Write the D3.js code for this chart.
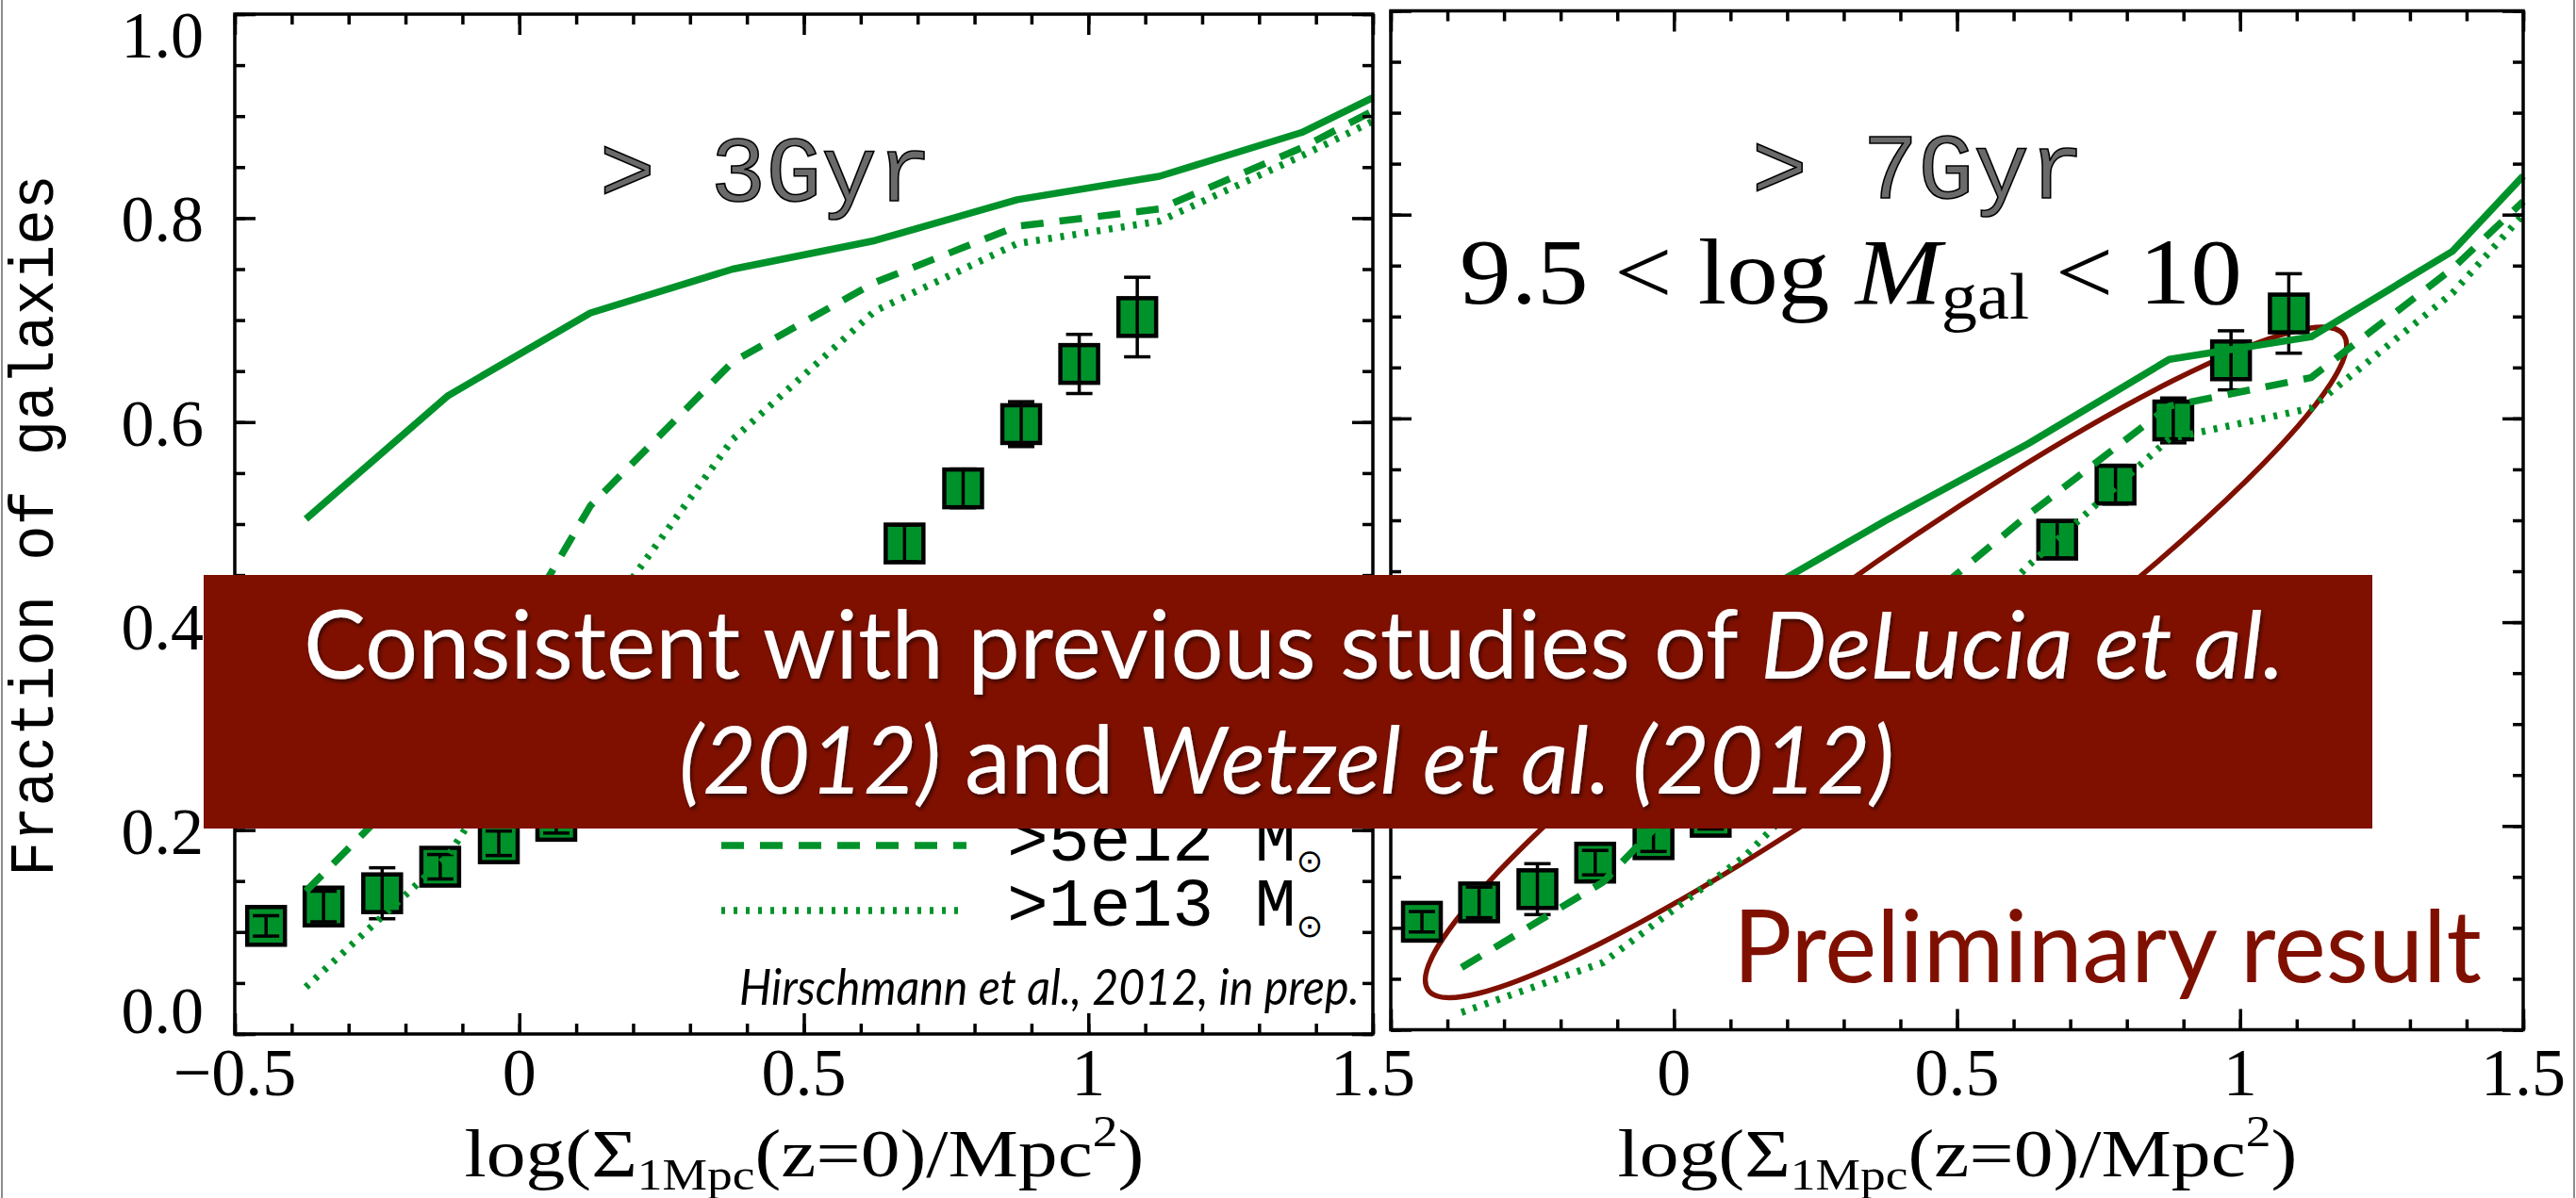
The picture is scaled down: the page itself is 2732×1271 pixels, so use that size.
<!DOCTYPE html>
<html>
<head>
<meta charset="utf-8">
<script src="https://cdn.jsdelivr.net/npm/d3@7"></script>
<style>
  html, body { margin: 0; padding: 0; background: #fff; }
  svg { display: block; }
</style>
</head>
<body>
<div id="chart"></div>
<script>
// observed fractions, same points in both panels
const obsX = [-0.445, -0.344, -0.241, -0.139, -0.036, 0.065, 0.677, 0.780, 0.882, 0.984, 1.086];
const obsY = [0.106, 0.125, 0.138, 0.164, 0.187, 0.209, 0.481, 0.535, 0.598, 0.657, 0.703];
const obsErr = [0.010, 0.015, 0.025, 0.012, 0.012, 0.012, 0.018, 0.019, 0.022, 0.029, 0.039];

// model curves (x grid shared by every curve)
const modelX = [-0.375, -0.125, 0.125, 0.375, 0.625, 0.875, 1.125, 1.375, 1.5];
const gyr3Solid = [0.505, 0.626, 0.707, 0.750, 0.778, 0.818, 0.841, 0.884, 0.918];
const gyr3Dashed = [0.140, 0.280, 0.518, 0.659, 0.737, 0.792, 0.809, 0.869, 0.905];
const gyr3Dotted = [0.046, 0.175, 0.390, 0.583, 0.709, 0.775, 0.797, 0.861, 0.895];
const gyr7Solid = [0.280, 0.350, 0.420, 0.500, 0.575, 0.658, 0.680, 0.764, 0.838];
const gyr7Dashed = [0.061, 0.145, 0.290, 0.390, 0.505, 0.612, 0.640, 0.747, 0.813];
const gyr7Dotted = [0.017, 0.066, 0.170, 0.310, 0.455, 0.580, 0.610, 0.723, 0.800];

// axes
const xTicks = [-0.5, 0, 0.5, 1, 1.5];
const yTicks = [0, 0.2, 0.4, 0.6, 0.8, 1.0];
const panelTitles = ['> 3Gyr', '> 7Gyr'];
const legendLabels = ['>5e12 M', '>1e13 M'];

// ellipse around the points in the right panel (tips in data units)
const ellipseTips = [[-0.434, 0.039], [1.183, 0.682]];

const GREEN = '#00922a';
const MAROON = '#7f1000';
const W = 2732, H = 1271;

const panels = [
  { box: { left: 249, right: 1456, top: 15, bottom: 1097 },
    solid: gyr3Solid, dashed: gyr3Dashed, dotted: gyr3Dotted,
    title: panelTitles[0], titleX: 636, titleY: 213,
    xLabels: xTicks, yLabels: true },
  { box: { left: 1475, right: 2676, top: 11.5, bottom: 1092.5 },
    solid: gyr7Solid, dashed: gyr7Dashed, dotted: gyr7Dotted,
    title: panelTitles[1], titleX: 1858, titleY: 210,
    xLabels: xTicks.slice(1), yLabels: false },
];

const lineStyles = {
  solid: null,
  dashed: '24,17',
  dotted: '4,9',
};

const fmt = (v) => (v < 0 ? '\u2212' + Math.abs(v) : String(v));

// text inside a group that gets stretched/squeezed to a measured width
const fitted = (parent, x0, baseline, width) => {
  const g = parent.append('g');
  const t = g.append('text').attr('x', 0).attr('y', 0);
  return {
    g, t,
    fit() {
      const w = t.node().getComputedTextLength();
      g.attr('transform', `translate(${x0},${baseline}) scale(${width / w},1)`);
    },
  };
};

const draw = () => {
  const svg = d3.select('#chart')
    .append('svg')
    .attr('width', W)
    .attr('height', H)
    .attr('viewBox', `0 0 ${W} ${H}`);

  svg.append('rect').attr('width', W).attr('height', H).attr('fill', '#fff');

  const defs = svg.append('defs');
  const f = defs.append('filter').attr('id', 'shadow')
    .attr('x', '-5%').attr('y', '-20%').attr('width', '110%').attr('height', '140%');
  f.append('feDropShadow').attr('dx', 2).attr('dy', 3).attr('stdDeviation', 2)
    .attr('flood-color', '#000').attr('flood-opacity', 0.55);

  // thin slide borders
  svg.append('line').attr('x1', 2).attr('x2', 2).attr('y1', 0).attr('y2', H)
    .attr('stroke', '#8c8c8c').attr('stroke-width', 2);
  svg.append('line').attr('x1', W - 2).attr('x2', W - 2).attr('y1', 0).attr('y2', H)
    .attr('stroke', '#8c8c8c').attr('stroke-width', 2);

  panels.forEach((p, pi) => {
    const b = p.box;
    const x = d3.scaleLinear().domain([-0.5, 1.5]).range([b.left, b.right]);
    const y = d3.scaleLinear().domain([0, 1]).range([b.bottom, b.top]);
    const g = svg.append('g');

    // ellipse (right panel only), behind the data
    if (pi === 1) {
      const [a, c] = ellipseTips.map(([dx, dy]) => [x(dx), y(dy)]);
      const cx = (a[0] + c[0]) / 2;
      const cy = (a[1] + c[1]) / 2;
      const rx = Math.hypot(c[0] - a[0], c[1] - a[1]) / 2;
      const ang = Math.atan2(c[1] - a[1], c[0] - a[0]) * 180 / Math.PI;
      g.append('ellipse')
        .attr('cx', 0).attr('cy', 0).attr('rx', rx).attr('ry', 93)
        .attr('transform', `translate(${cx},${cy}) rotate(${ang})`)
        .attr('fill', 'none').attr('stroke', MAROON).attr('stroke-width', 5.5);
    }

    // observed points
    const pts = g.append('g');
    obsX.forEach((vx, i) => {
      const px = x(vx);
      const py = y(obsY[i]);
      pts.append('rect')
        .attr('x', px - 20).attr('y', py - 20).attr('width', 40).attr('height', 40)
        .attr('fill', GREEN).attr('stroke', '#000').attr('stroke-width', 4.5);
      const y0 = y(obsY[i] - obsErr[i]);
      const y1 = y(obsY[i] + obsErr[i]);
      const eb = pts.append('g').attr('stroke', '#000').attr('stroke-width', 3.5);
      eb.append('line').attr('x1', px).attr('x2', px).attr('y1', y0).attr('y2', y1);
      eb.append('line').attr('x1', px - 14).attr('x2', px + 14).attr('y1', y0).attr('y2', y0);
      eb.append('line').attr('x1', px - 14).attr('x2', px + 14).attr('y1', y1).attr('y2', y1);
    });

    // model curves
    const line = d3.line().x((d, i) => x(modelX[i])).y((d) => y(d));
    ['solid', 'dashed', 'dotted'].forEach((k) => {
      g.append('path')
        .attr('d', line(p[k]))
        .attr('fill', 'none')
        .attr('stroke', GREEN)
        .attr('stroke-width', 7.5)
        .attr('stroke-linejoin', 'round')
        .attr('stroke-dasharray', lineStyles[k]);
    });

    // frame + inward ticks on all four sides
    g.append('rect')
      .attr('x', b.left).attr('y', b.top)
      .attr('width', b.right - b.left).attr('height', b.bottom - b.top)
      .attr('fill', 'none').attr('stroke', '#000').attr('stroke-width', 3.5);

    const sides = [
      [d3.axisBottom, `translate(0,${b.bottom})`, x, xTicks],
      [d3.axisTop, `translate(0,${b.top})`, x, xTicks],
      [d3.axisLeft, `translate(${b.left},0)`, y, yTicks],
      [d3.axisRight, `translate(${b.right},0)`, y, yTicks],
    ];
    sides.forEach(([axis, tr, sc, major]) => {
      [[sc.ticks(20), -11], [major, -22]].forEach(([vals, size]) => {
        g.append('g')
          .attr('transform', tr)
          .call(axis(sc).tickValues(vals).tickSize(size).tickFormat(''))
          .call((s) => s.select('.domain').remove())
          .call((s) => s.selectAll('.tick line').attr('stroke-width', 3.5));
      });
    });

    // tick labels
    g.selectAll('.xlab')
      .data(p.xLabels)
      .enter()
      .append('text')
      .attr('x', (d) => x(d))
      .attr('y', 1162)
      .attr('text-anchor', 'middle')
      .attr('font-family', 'Liberation Serif, serif')
      .attr('font-size', 72)
      .text(fmt);

    if (p.yLabels) {
      g.selectAll('.ylab')
        .data(yTicks)
        .enter()
        .append('text')
        .attr('x', 216)
        .attr('y', (d) => {
          if (d === 0) return y(d) - 1;
          if (d === 1) return y(d) + 46;
          return y(d) + 25;
        })
        .attr('text-anchor', 'end')
        .attr('font-family', 'Liberation Serif, serif')
        .attr('font-size', 70)
        .text((d) => d.toFixed(1));
    }

    // x axis title
    const cxm = (b.left + b.right) / 2;
    const xt = fitted(g, cxm - 360, 1248, 721);
    xt.t.attr('font-family', 'Liberation Serif, serif').attr('font-size', 72);
    xt.t.append('tspan').text('log(\u03A3');
    xt.t.append('tspan').attr('font-size', 46).attr('dy', 14).text('1Mpc');
    xt.t.append('tspan').attr('dy', -14).text('(z=0)/Mpc');
    xt.t.append('tspan').attr('font-size', 46).attr('dy', -32).text('2');
    xt.t.append('tspan').attr('dy', 32).text(')');
    xt.fit();

    // panel label, thin double-line look
    g.append('text')
      .attr('x', p.titleX).attr('y', p.titleY)
      .attr('font-family', 'Liberation Mono, monospace')
      .attr('font-size', 98)
      .attr('fill', '#6a6a6a')
      .attr('stroke', '#000')
      .attr('stroke-width', 1.6)
      .text(p.title);
  });

  // y axis title
  const yt = svg.append('g');
  const ytt = yt.append('text')
    .attr('font-family', 'Liberation Mono, monospace')
    .attr('font-size', 66)
    .text('Fraction of galaxies');
  const ytw = ytt.node().getComputedTextLength();
  yt.attr('transform', `translate(56,930) rotate(-90) scale(${745 / ytw},1)`);

  // legend (left panel)
  const legY = [897, 966];
  const legStyle = ['dashed', 'dotted'];
  legendLabels.forEach((lab, i) => {
    svg.append('line')
      .attr('x1', 765).attr('x2', 1025)
      .attr('y1', legY[i]).attr('y2', legY[i])
      .attr('stroke', GREEN).attr('stroke-width', 7.5)
      .attr('stroke-dasharray', lineStyles[legStyle[i]]);
    const t = svg.append('text')
      .attr('x', 1068).attr('y', legY[i] + 16)
      .attr('font-family', 'Liberation Mono, monospace')
      .attr('font-size', 73)
      .text(lab);
    t.append('tspan')
      .attr('font-family', 'DejaVu Sans, sans-serif')
      .attr('font-size', 34).attr('dy', 12).text('\u2299');
  });

  const hir = fitted(svg, 784, 1066, 658);
  hir.t.attr('font-family', 'Lato, sans-serif').attr('font-style', 'italic').attr('font-size', 52)
    .text('Hirschmann et al., 2012, in prep.');
  hir.fit();

  // right panel math label
  const ml = fitted(svg, 1548, 322, 830);
  ml.t.attr('font-family', 'Liberation Serif, serif').attr('font-size', 100);
  ml.t.append('tspan').text('9.5 < log ');
  ml.t.append('tspan').attr('font-style', 'italic').text('M');
  ml.t.append('tspan').attr('font-size', 70).attr('dy', 16).text('gal');
  ml.t.append('tspan').attr('dy', -16).text(' < 10');
  ml.fit();

  // preliminary note
  const pr = fitted(svg, 1838, 1042, 794);
  pr.t.attr('font-family', 'Lato, sans-serif').attr('font-size', 106)
    .attr('fill', MAROON).text('Preliminary result');
  pr.fit();

  // overlay banner
  svg.append('rect')
    .attr('x', 216).attr('y', 610).attr('width', 2300).attr('height', 269)
    .attr('fill', MAROON);

  const l1 = fitted(svg, 322, 720, 2101);
  l1.t.attr('font-family', 'Lato, sans-serif').attr('font-size', 100)
    .attr('fill', '#fff').attr('filter', 'url(#shadow)');
  l1.t.append('tspan').text('Consistent with previous studies of ');
  l1.t.append('tspan').attr('font-style', 'italic').text('DeLucia et al.');
  l1.fit();

  const l2 = fitted(svg, 720, 842, 1289);
  l2.t.attr('font-family', 'Lato, sans-serif').attr('font-size', 100)
    .attr('fill', '#fff').attr('filter', 'url(#shadow)');
  l2.t.append('tspan').attr('font-style', 'italic').text('(2012)');
  l2.t.append('tspan').text(' and ');
  l2.t.append('tspan').attr('font-style', 'italic').text('Wetzel et al. (2012)');
  l2.fit();
};

document.fonts.ready.then(draw);
</script>
</body>
</html>
